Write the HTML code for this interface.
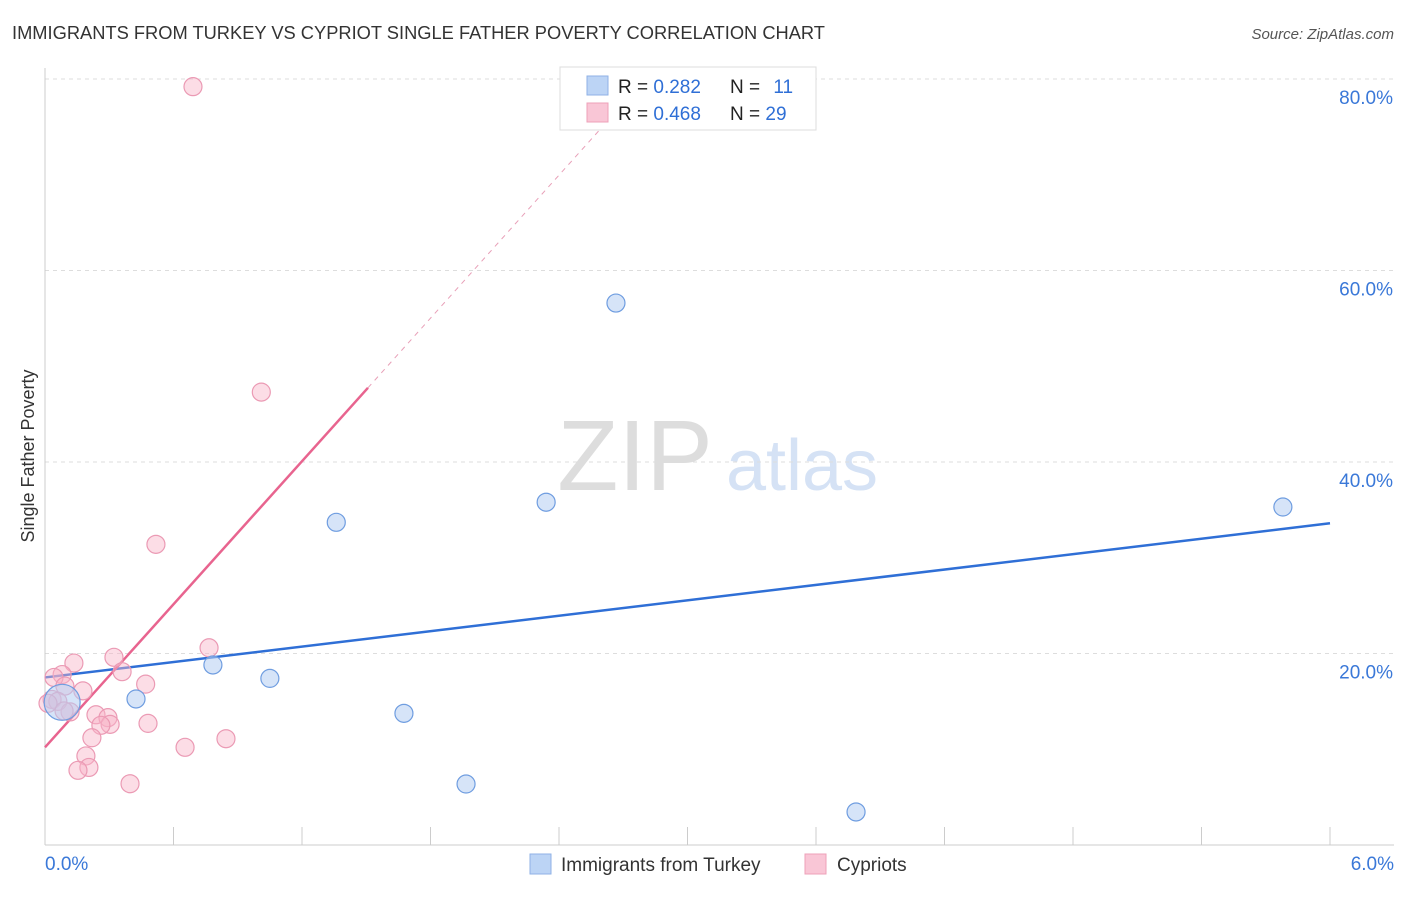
<!DOCTYPE html>
<html><head><meta charset="utf-8">
<style>
body{margin:0;background:#fff;font-family:"Liberation Sans",sans-serif;}
svg text{font-family:"Liberation Sans",sans-serif;}
</style></head>
<body>
<svg id="chart" width="1406" height="892" xmlns="http://www.w3.org/2000/svg">
<text x="12" y="39" font-size="18.3" fill="#333">IMMIGRANTS FROM TURKEY VS CYPRIOT SINGLE FATHER POVERTY CORRELATION CHART</text>
<text x="1394" y="39" font-size="15" fill="#555" text-anchor="end" font-style="italic">Source: ZipAtlas.com</text>
<text transform="translate(34,456) rotate(-90)" font-size="18" fill="#333" text-anchor="middle">Single Father Poverty</text>
<g>
<text x="635" y="490" font-size="100" fill="#ddd" font-family="Liberation Serif" text-anchor="middle">ZIP</text>
<text x="802" y="490" font-size="72" fill="#d5e2f5" text-anchor="middle">atlas</text>
</g>
<g id="grid"></g><g id="axes"></g><g id="lines"></g><g id="pts"></g>
<g>
<rect x="560" y="67" width="256" height="63" fill="#fff" stroke="#ddd"/>
<rect x="587" y="76" width="21" height="19" fill="#bcd4f5" stroke="#8fb1e6"/>
<rect x="587" y="103" width="21" height="19" fill="#f9c6d6" stroke="#eea0b8"/>
<text x="618" y="93" font-size="19" fill="#222">R = <tspan fill="#2f6fd6">0.282</tspan></text>
<text x="730" y="93" font-size="19" fill="#222">N = <tspan fill="#2f6fd6" dx="8">11</tspan></text>
<text x="618" y="120" font-size="19" fill="#222">R = <tspan fill="#2f6fd6">0.468</tspan></text>
<text x="730" y="120" font-size="19" fill="#222">N = <tspan fill="#2f6fd6">29</tspan></text>
</g>
<g>
<rect x="530" y="854" width="21" height="20" fill="#bcd4f5" stroke="#8fb1e6"/>
<text x="561" y="871" font-size="19" fill="#333">Immigrants from Turkey</text>
<rect x="805" y="854" width="21" height="20" fill="#f9c6d6" stroke="#eea0b8"/>
<text x="837" y="871" font-size="19" fill="#333">Cypriots</text>
</g>
</svg>
<script>
const blueX=[0.08,0.425,0.784,1.05,1.36,1.676,1.966,2.34,2.666,3.787,5.78];
const blueY=[14.9,15.25,18.8,17.4,33.7,13.75,6.37,35.8,56.6,3.45,35.3];
const pinkX=[0.691,1.01,0.518,0.766,0.322,0.135,0.08,0.042,0.093,0.177,0.033,0.06,0.117,0.36,0.47,0.238,0.294,0.304,0.261,0.481,0.219,0.654,0.845,0.191,0.205,0.154,0.397,0.014,0.089];
const pinkY=[79.2,47.3,31.4,20.6,19.6,19.0,17.8,17.5,16.6,16.1,15.2,15.0,13.9,18.1,16.8,13.6,13.3,12.6,12.5,12.7,11.2,10.2,11.1,9.3,8.1,7.8,6.4,14.8,14.0];
const yTicks=[20,40,60,80];
const yTickLabels=["20.0%","40.0%","60.0%","80.0%"];
const xTickLabels=["0.0%","6.0%"];
const blueTrend=[17.5,33.6];
const pinkTrend=[10.2,24.9];
const NS="http://www.w3.org/2000/svg";
const X=v=>45+v/6*1285, Y=v=>845-v/20*191.5;
function mk(t,a,p){const e=document.createElementNS(NS,t);for(const k in a)e.setAttribute(k,a[k]);p.appendChild(e);return e;}
const grid=document.getElementById('grid'),axes=document.getElementById('axes'),lines=document.getElementById('lines'),pts=document.getElementById('pts');
yTicks.forEach((t,i)=>{
 const l=mk('line',{x1:45,x2:1394,y1:Y(t),y2:Y(t),stroke:'#ddd','stroke-dasharray':'4,4'},grid);
 
 
 const tx=mk('text',{x:1393,y:Y(t)+25,'font-size':19,fill:'#3a78d8','text-anchor':'end'},axes);
 tx.textContent=yTickLabels[i];
 
 
});
const ax=mk('line',{x1:45,x2:1394,y1:845,y2:845,stroke:'#ccc'},axes);


const ay=mk('line',{x1:45,x2:45,y1:68,y2:845,stroke:'#ccc'},axes);


for(let i=0;i<=10;i++){const x=45+i*128.5;const t=mk('line',{x1:x,x2:x,y1:827,y2:845,stroke:'#ccc'},axes);
 
 }
[[0,'start',45],[6,'end',1394]].forEach((d,i)=>{const t=mk('text',{x:d[2],y:870,'font-size':19,fill:'#3a78d8','text-anchor':d[1]},axes);t.textContent=xTickLabels[i];
 
 });
const bl=mk('line',{x1:X(0),y1:Y(blueTrend[0]),x2:X(6),y2:Y(blueTrend[1]),stroke:'#2f6fd6','stroke-width':2.5},lines);


const pe=1.508,pd=2.59;
const pl=mk('line',{x1:X(0),y1:Y(pinkTrend[0]),x2:X(pe),y2:Y(pinkTrend[0]+pinkTrend[1]*pe),stroke:'#e8648f','stroke-width':2.5},lines);


const pdl=mk('line',{x1:X(pe),y1:Y(pinkTrend[0]+pinkTrend[1]*pe),x2:X(pd),y2:Y(pinkTrend[0]+pinkTrend[1]*pd),stroke:'#e8a0b8','stroke-width':1,'stroke-dasharray':'5,5'},lines);


pinkX.forEach((x,i)=>{const c=mk('circle',{cx:X(x),cy:Y(pinkY[i]),r:9,fill:'rgba(248,180,200,0.45)',stroke:'#eb9ab4','stroke-width':1.2},pts);
 
 });
blueX.forEach((x,i)=>{const c=mk('circle',{cx:X(x),cy:Y(blueY[i]),r:i===0?18:9,fill:'rgba(180,205,242,0.55)',stroke:'#6f9de0','stroke-width':1.2},pts);
 
 });
</script>
</body></html>
